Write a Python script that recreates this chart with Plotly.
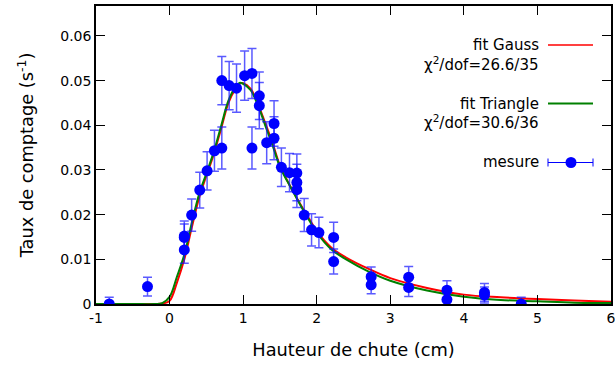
import plotly.graph_objects as go

# measured points (height in cm, rate in s^-1, error)
mes_x = [-0.82, -0.30, 0.20, 0.20, 0.20, 0.30, 0.41, 0.51, 0.61, 0.71, 0.71, 0.81, 0.91,
         1.02, 1.12, 1.12, 1.22, 1.22, 1.32, 1.42, 1.42, 1.52, 1.63, 1.73, 1.73, 1.73,
         1.83, 1.93, 2.03, 2.23, 2.23, 2.74, 2.74, 3.25, 3.25, 3.77, 3.77, 4.28, 4.28, 4.78]
mes_y = [0.0000, 0.0039, 0.0152, 0.0149, 0.0121, 0.0199, 0.0255, 0.0298, 0.0343, 0.0349, 0.0500,
         0.0489, 0.0483, 0.0511, 0.0516, 0.0349, 0.0466, 0.0444, 0.0361, 0.0404, 0.0371,
         0.0306, 0.0294, 0.0293, 0.0272, 0.0256, 0.0199, 0.0166, 0.0160, 0.0149, 0.0095,
         0.0061, 0.0043, 0.0060, 0.0037, 0.0031, 0.0010, 0.0026, 0.0020, 0.0000]
mes_err = [0.0015, 0.0021, 0.0034, 0.0030, 0.0030, 0.0036, 0.0040, 0.0043, 0.0046, 0.0047, 0.0054,
           0.0054, 0.0054, 0.0055, 0.0056, 0.0047, 0.0053, 0.0052, 0.0047, 0.0051, 0.0048,
           0.0043, 0.0043, 0.0043, 0.0041, 0.0040, 0.0037, 0.0036, 0.0034, 0.0034, 0.0028,
           0.0022, 0.0020, 0.0024, 0.0020, 0.0021, 0.0015, 0.0020, 0.0018, 0.0015]

# fitted curves
fit_x = [-1, -0.5, -0.2, -0.1, 0, 0.1, 0.2, 0.3, 0.4, 0.5, 0.6, 0.7, 0.8, 0.9, 0.95, 1.0,
         1.1, 1.2, 1.3, 1.4, 1.5, 1.6, 1.7, 1.8, 1.9, 2.0, 2.2, 2.4, 2.7, 3.0, 3.5, 4.0,
         4.5, 5.0, 5.5, 6.0]
gauss_y = [0, 0, 0, 0.0001, 0.0007, 0.0048, 0.0100, 0.0170, 0.0237, 0.0287, 0.0335, 0.0392,
           0.0450, 0.0483, 0.0493, 0.0494, 0.0482, 0.0448, 0.0405, 0.0360, 0.0310, 0.0276,
           0.0246, 0.0217, 0.0190, 0.0163, 0.0126, 0.0104, 0.0079, 0.0058, 0.0036, 0.0021,
           0.0015, 0.0011, 0.0008, 0.0005]
tri_y = [0, 0, 0, 0.0002, 0.0016, 0.0061, 0.0110, 0.0180, 0.0245, 0.0292, 0.0340, 0.0398,
         0.0455, 0.0487, 0.0495, 0.0493, 0.0479, 0.0445, 0.0400, 0.0355, 0.0307, 0.0275,
         0.0245, 0.0215, 0.0187, 0.0160, 0.0122, 0.0100, 0.0073, 0.0052, 0.0030, 0.0016,
         0.0009, 0.0006, 0.0003, 0.0002]

x_ticks = [-1, 0, 1, 2, 3, 4, 5, 6]
x_labels = ["-1", "0", "1", "2", "3", "4", "5", "6"]
y_ticks = [0, 0.01, 0.02, 0.03, 0.04, 0.05, 0.06]
y_labels = ["0", "0.01", "0.02", "0.03", "0.04", "0.05", "0.06"]

FONT = "DejaVu Sans"
BLUE = "#0000ff"
RED = "#ff0000"
GREEN = "#008000"

fig = go.Figure()
fig.add_trace(go.Scatter(x=fit_x, y=gauss_y, mode="lines", line=dict(color=RED, width=2, shape="spline")))
fig.add_trace(go.Scatter(x=fit_x, y=tri_y, mode="lines", line=dict(color=GREEN, width=2, shape="spline")))
fig.add_trace(go.Scatter(
    x=mes_x, y=mes_y, mode="markers",
    marker=dict(color=BLUE, size=11),
    error_y=dict(type="data", array=mes_err, color="rgba(20,20,255,0.7)", thickness=1.5, width=4.5),
))

axis_common = dict(
    showline=True, linecolor="black", linewidth=1.5, mirror="allticks",
    ticks="inside", ticklen=9, tickwidth=1.2, tickcolor="black",
    showgrid=False, zeroline=False, automargin=False, ticklabeloverflow="allow",
    tickfont=dict(family=FONT, size=14, color="black"),
)
fig.update_layout(
    width=615, height=367,
    margin=dict(l=96, r=4, t=6, b=63),
    paper_bgcolor="white", plot_bgcolor="white",
    showlegend=False,
    font=dict(family=FONT, color="black"),
    xaxis=dict(range=[-1, 6], tickvals=x_ticks, ticktext=x_labels, **axis_common,
               title=dict(text="Hauteur de chute (cm)", font=dict(family=FONT, size=17.8), standoff=19)),
    yaxis=dict(range=[0, 0.0667], tickvals=y_ticks, ticktext=y_labels, **axis_common,
               title=dict(text="Taux de comptage (s<sup>-1</sup>)", font=dict(family=FONT, size=17.8), standoff=22)),
)

# legend drawn gnuplot-style: right-aligned text, sample on the right
def py(p):
    return (304 - p) / 298

def px(p):
    return (p - 96) / 515

legend_rows = [
    ("fit Gauss", 45), ("χ<sup>2</sup>/dof=26.6/35", 63.5),
    ("fit Triangle", 103.5), ("χ<sup>2</sup>/dof=30.6/36", 122), ("mesure", 162.5),
]
for txt, yy in legend_rows:
    fig.add_annotation(xref="paper", yref="paper", x=px(541), y=py(yy), text=txt, showarrow=False,
                       xanchor="right", yanchor="middle", font=dict(family=FONT, size=15, color="black"))

fig.add_shape(type="line", xref="paper", yref="paper", x0=px(548), x1=px(593), y0=py(45), y1=py(45),
              line=dict(color=RED, width=1.5))
fig.add_shape(type="line", xref="paper", yref="paper", x0=px(548), x1=px(593), y0=py(103.5), y1=py(103.5),
              line=dict(color=GREEN, width=2))
fig.add_shape(type="line", xref="paper", yref="paper", x0=px(548), x1=px(593), y0=py(162.5), y1=py(162.5),
              line=dict(color=BLUE, width=1))
for cx in (548, 593):
    fig.add_shape(type="line", xref="paper", yref="paper", x0=px(cx), x1=px(cx), y0=py(158.5), y1=py(166.5),
                  line=dict(color=BLUE, width=1))
fig.add_shape(type="circle", xref="paper", yref="paper", xsizemode="pixel", ysizemode="pixel",
              xanchor=px(571), yanchor=py(162.5), x0=-5.5, x1=5.5, y0=-5.5, y1=5.5,
              fillcolor=BLUE, line=dict(color=BLUE, width=0))

# the page body has a default 8px margin; drop it so the figure sits at the corner
fig.write_html("out.html", config={"displayModeBar": False},
               post_script="document.body.style.margin='0';")
